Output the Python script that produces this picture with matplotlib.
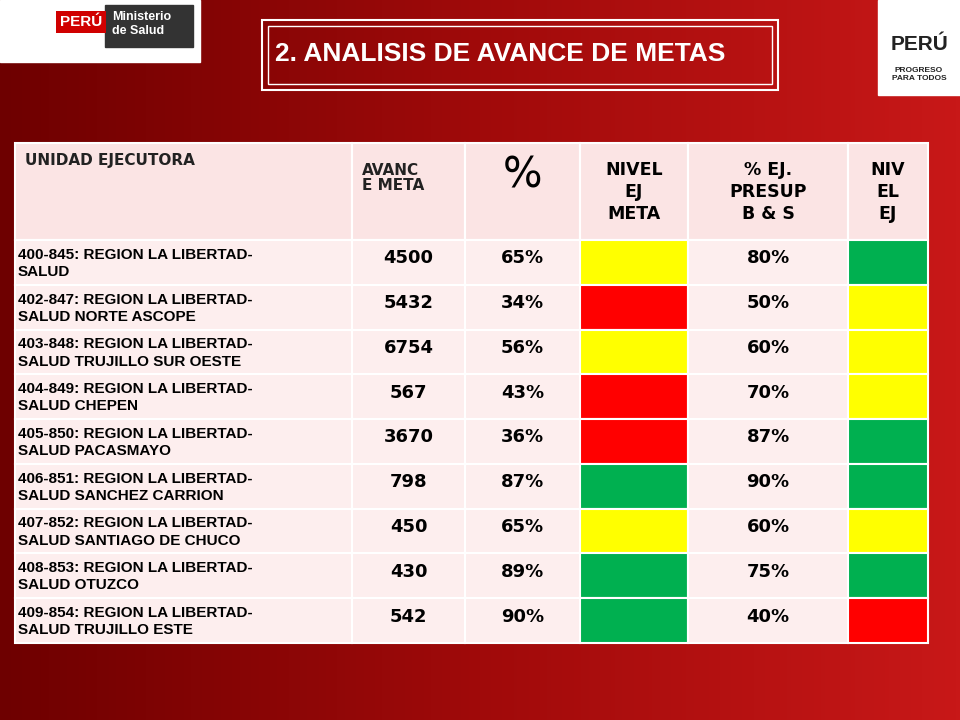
import matplotlib
matplotlib.use("Agg")
import matplotlib.pyplot as plt
from matplotlib.patches import Rectangle
from matplotlib.colors import LinearSegmentedColormap
import numpy as np

units = ["400-845: REGION LA LIBERTAD-\nSALUD",
         "402-847: REGION LA LIBERTAD-\nSALUD NORTE ASCOPE",
         "403-848: REGION LA LIBERTAD-\nSALUD TRUJILLO SUR OESTE",
         "404-849: REGION LA LIBERTAD-\nSALUD CHEPEN",
         "405-850: REGION LA LIBERTAD-\nSALUD PACASMAYO",
         "406-851: REGION LA LIBERTAD-\nSALUD SANCHEZ CARRION",
         "407-852: REGION LA LIBERTAD-\nSALUD SANTIAGO DE CHUCO",
         "408-853: REGION LA LIBERTAD-\nSALUD OTUZCO",
         "409-854: REGION LA LIBERTAD-\nSALUD TRUJILLO ESTE"]
avance = [4500, 5432, 6754, 567, 3670, 798, 450, 430, 542]
pct = [65, 34, 56, 43, 36, 87, 65, 89, 90]
nivel_meta = ["Y", "R", "Y", "R", "R", "G", "Y", "G", "G"]
presup = [80, 50, 60, 70, 87, 90, 60, 75, 40]
nivel_ej = ["G", "Y", "Y", "Y", "G", "G", "Y", "G", "R"]
headers = ["UNIDAD EJECUTORA", "AVANC\nE META", "%", "NIVEL\nEJ\nMETA", "% EJ.\nPRESUP\nB & S", "NIV\nEL\nEJ"]

cmap = {"Y": "#ffff00", "R": "#ff0000", "G": "#00b050"}
ARIAL = "Liberation Sans"

fig = plt.figure(figsize=(9.6, 7.2), dpi=100)
ax = fig.add_axes([0, 0, 1, 1])
ax.set_xlim(0, 960); ax.set_ylim(720, 0); ax.axis("off")

grad = np.linspace(0, 1, 256).reshape(1, -1)
bg = LinearSegmentedColormap.from_list("bg", ["#6e0000", "#a00a0a", "#c81818"])
ax.imshow(np.vstack([grad]*2), extent=[0, 960, 720, 0], cmap=bg, aspect="auto", zorder=0)
ax.add_patch(Rectangle((0, 0), 200, 62, color="white", zorder=1))
ax.add_patch(Rectangle((878, 0), 82, 95, color="white", zorder=1))
ax.text(60, 22, "PERÚ", color="white", fontsize=11, fontweight="bold", zorder=3, family=ARIAL,
        bbox=dict(facecolor="#d00000", edgecolor="none", pad=3), va="center")
ax.add_patch(Rectangle((105, 5), 88, 42, color="#333333", zorder=2))
ax.text(112, 24, "Ministerio\nde Salud", color="white", fontsize=9, fontweight="bold", va="center", zorder=3, family=ARIAL)
ax.text(919, 50, "PERÚ", color="#222222", fontsize=15, fontweight="bold", ha="center", zorder=3, family=ARIAL)
ax.text(919, 75, "PROGRESO\nPARA TODOS", color="#222222", fontsize=6, fontweight="bold", ha="center", va="center", zorder=3, family=ARIAL)

ax.add_patch(Rectangle((262, 20), 516, 70, facecolor="none", edgecolor="white", lw=1.5, zorder=2))
ax.add_patch(Rectangle((268, 26), 504, 58, facecolor="none", edgecolor="white", lw=1, zorder=2))
ax.text(275, 54, "2. ANALISIS DE AVANCE DE METAS", color="white", fontsize=19, fontweight="bold",
        va="center", zorder=3, family=ARIAL)

cols = [15, 352, 465, 580, 688, 848, 928]
top, hbot, bot = 143, 240, 643
rh = (bot - hbot) / len(units)

for j, h in enumerate(headers):
    ax.add_patch(Rectangle((cols[j], top), cols[j+1]-cols[j], hbot-top, facecolor="#fbe4e4", edgecolor="white", lw=1.5, zorder=2))
    if j == 0:
        ax.text(cols[0]+10, 160, h, fontsize=11, fontweight="bold", va="center", color="#222222", zorder=3)
    elif j == 1:
        ax.text(cols[1]+10, 178, h, fontsize=11, fontweight="bold", va="center", color="#222222", zorder=3, linespacing=1.0)
    elif j == 2:
        ax.text((cols[2]+cols[3])/2, 175, h, fontsize=30, va="center", ha="center", color="black", zorder=3)
    else:
        ax.text((cols[j]+cols[j+1])/2, 192, h, fontsize=12.5, fontweight="bold", va="center", ha="center", color="black", zorder=3, linespacing=1.3)

for i in range(len(units)):
    y = hbot + i*rh
    cy = y + rh/2
    for j in range(6):
        fc = "#fdeeee"
        if j == 3: fc = cmap[nivel_meta[i]]
        if j == 5: fc = cmap[nivel_ej[i]]
        ax.add_patch(Rectangle((cols[j], y), cols[j+1]-cols[j], rh, facecolor=fc, edgecolor="white", lw=1.5, zorder=2))
    ax.text(cols[0]+3, cy+1, units[i], fontsize=11, fontweight="bold", va="center", zorder=3,
            linespacing=1.3, family=ARIAL)
    ax.text((cols[1]+cols[2])/2, cy-4, str(avance[i]), fontsize=13, fontweight="bold", ha="center", va="center", zorder=3)
    ax.text((cols[2]+cols[3])/2, cy-4, f"{pct[i]}%", fontsize=13, fontweight="bold", ha="center", va="center", zorder=3)
    ax.text((cols[4]+cols[5])/2, cy-4, f"{presup[i]}%", fontsize=13, fontweight="bold", ha="center", va="center", zorder=3)

fig.savefig("out.png", dpi=100)
